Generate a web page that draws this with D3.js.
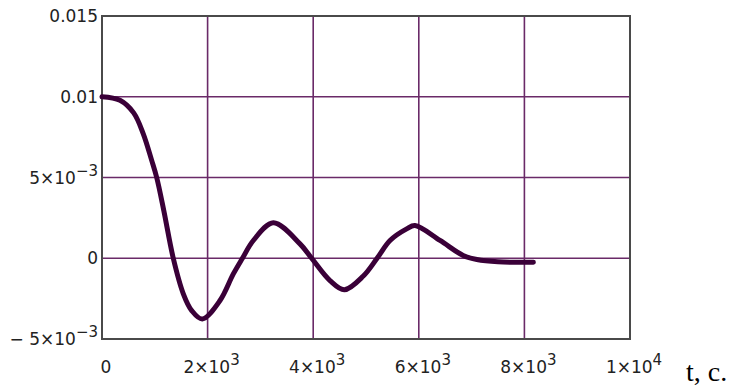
<!DOCTYPE html>
<html>
<head>
<meta charset="utf-8">
<script src="https://cdn.jsdelivr.net/npm/d3@7"></script>
<style>
  body { margin: 0; background: #fff; }
  .tick-label { font-family: "DejaVu Sans", Verdana, sans-serif; font-size: 17px; fill: #222; }
</style>
</head>
<body>
<div id="chart"></div>
<script>
// time, s
var tValues = [0, 340, 600, 780, 941, 1036, 1170, 1350, 1540, 1699, 1900, 2235, 2487, 2660, 2866, 3245,
               3750, 3971, 4318, 4590, 4949, 5210, 5455, 5770, 5928, 6402, 6840, 7100, 7500, 8170];
// amplitude
var aValues = [0.0100, 0.00978, 0.0090, 0.00772, 0.00606, 0.0050, 0.00296, 0.0, -0.0022, -0.00324, -0.00376, -0.00262, -0.00097, 0.0, 0.0011, 0.0022,
               0.00089, 0.0, -0.00138, -0.00195, -0.0011, 0.0, 0.0011, 0.00182, 0.00203, 0.0011, 0.00017, -0.00008, -0.00022, -0.00025];

var xTicks = [0, 2000, 4000, 6000, 8000, 10000];
var xTickLabels = [["0", ""], ["2\u00d710", "3"], ["4\u00d710", "3"], ["6\u00d710", "3"], ["8\u00d710", "3"], ["1\u00d710", "4"]];
var yTicks = [-0.005, 0, 0.005, 0.01, 0.015];
var yTickLabels = [["\u2212 5\u00d710", "\u22123"], ["0", ""], ["5\u00d710", "\u22123"], ["0.01", ""], ["0.015", ""]];
var xAxisTitle = "t, c.";

var margin = {top: 16, right: 103, bottom: 51, left: 102},
    width = 733 - margin.left - margin.right,
    height = 390 - margin.top - margin.bottom;

var svg = d3.select("#chart")
  .append("svg")
    .attr("width", 733)
    .attr("height", 390)
  .append("g")
    .attr("transform", `translate(${margin.left},${margin.top})`);

var x = d3.scaleLinear().domain([0, 10000]).range([0, width]);
var y = d3.scaleLinear().domain([-0.005, 0.015]).range([height, 0]);

var gridColor = "#6a2a68";

// vertical grid
svg.append("g")
  .selectAll("line")
  .data(xTicks.slice(1, -1))
  .join("line")
    .attr("x1", d => x(d)).attr("x2", d => x(d))
    .attr("y1", 0).attr("y2", height)
    .attr("stroke", gridColor).attr("stroke-width", 1.6);

// horizontal grid
svg.append("g")
  .selectAll("line")
  .data(yTicks.slice(1, -1))
  .join("line")
    .attr("x1", 0).attr("x2", width)
    .attr("y1", d => y(d)).attr("y2", d => y(d))
    .attr("stroke", gridColor).attr("stroke-width", 1.6);

// frame
svg.append("rect")
  .attr("x", 0).attr("y", 0)
  .attr("width", width).attr("height", height)
  .attr("fill", "none")
  .attr("stroke", "#4a4a4a").attr("stroke-width", 2);

// curve
var line = d3.line()
  .x((d, i) => x(tValues[i]))
  .y(d => y(d))
  .curve(d3.curveCatmullRom.alpha(0.5));

svg.append("path")
  .datum(aValues)
  .attr("d", line)
  .attr("fill", "none")
  .attr("stroke", "#3a0038")
  .attr("stroke-width", 5)
  .attr("stroke-linecap", "round")
  .attr("stroke-linejoin", "round");

// x tick labels
var xl = svg.append("g")
  .selectAll("text")
  .data(xTicks)
  .join("text")
    .attr("class", "tick-label")
    .attr("x", d => x(d) + 4)
    .attr("y", height + 34)
    .attr("text-anchor", "middle");
xl.append("tspan").text((d, i) => xTickLabels[i][0]);
xl.append("tspan")
  .attr("dy", -8)
  .attr("font-size", 15)
  .text((d, i) => xTickLabels[i][1]);

// y tick labels
var yl = svg.append("g")
  .selectAll("text")
  .data(yTicks)
  .join("text")
    .attr("class", "tick-label")
    .attr("x", -4)
    .attr("y", d => y(d) + 6)
    .attr("text-anchor", "end");
yl.append("tspan").text((d, i) => yTickLabels[i][0]);
yl.append("tspan")
  .attr("dy", -8)
  .attr("font-size", 15)
  .text((d, i) => yTickLabels[i][1]);

// axis title
svg.append("text")
  .attr("x", width + 56)
  .attr("y", height + 42)
  .attr("font-family", "'Liberation Serif', 'Times New Roman', serif")
  .attr("font-size", 28)
  .attr("fill", "#000")
  .text(xAxisTitle);
</script>
</body>
</html>
